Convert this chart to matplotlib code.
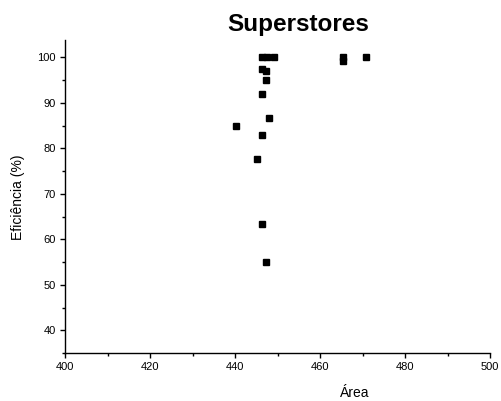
import matplotlib
matplotlib.use("Agg")
import matplotlib.pyplot as plt
from matplotlib.ticker import MultipleLocator

plt.rcParams['font.family'] = ['Liberation Sans', 'DejaVu Sans']

area = [446.3, 447.5, 449.2, 465.3, 465.3, 470.8, 446.3, 447.3, 447.3,
        446.3, 448.1, 440.2, 446.3, 445.2, 446.3, 447.3]
eficiencia = [100.0, 100.0, 100.0, 100.0, 99.1, 100.0, 97.5, 97.0, 94.9,
              92.0, 86.6, 85.0, 83.0, 77.7, 63.3, 55.1]

fig = plt.figure(figsize=(5.01, 4.01), dpi=100)
ax = fig.add_axes([65/501, 1-353/401, 425/501, 313/401])
ax.plot(area, eficiencia, 's', color='black', markersize=5, linestyle='none')

ax.set_xlim(400, 500)
ax.set_ylim(35, 103.8)
ax.xaxis.set_major_locator(MultipleLocator(20))
ax.xaxis.set_minor_locator(MultipleLocator(10))
ax.yaxis.set_major_locator(MultipleLocator(10))
ax.yaxis.set_minor_locator(MultipleLocator(5))
ax.spines['top'].set_visible(False)
ax.spines['right'].set_visible(False)
for s in ['left', 'bottom']:
    ax.spines[s].set_linewidth(1.0)
ax.tick_params(which='major', direction='out', length=3.6, width=1, labelsize=8, pad=3)
ax.tick_params(which='minor', direction='out', length=2.2, width=1)

fig.text(298/501, 1-25/401, 'Superstores', ha='center', va='center',
         fontsize=17.5, fontweight='bold')
fig.text(355/501, 1-393/401, 'Área', ha='center', va='center', fontsize=10)
fig.text(18/501, 1-197/401, 'Eficiência (%)', ha='center', va='center',
         fontsize=10, rotation=90)

fig.savefig('out.png', dpi=100)
